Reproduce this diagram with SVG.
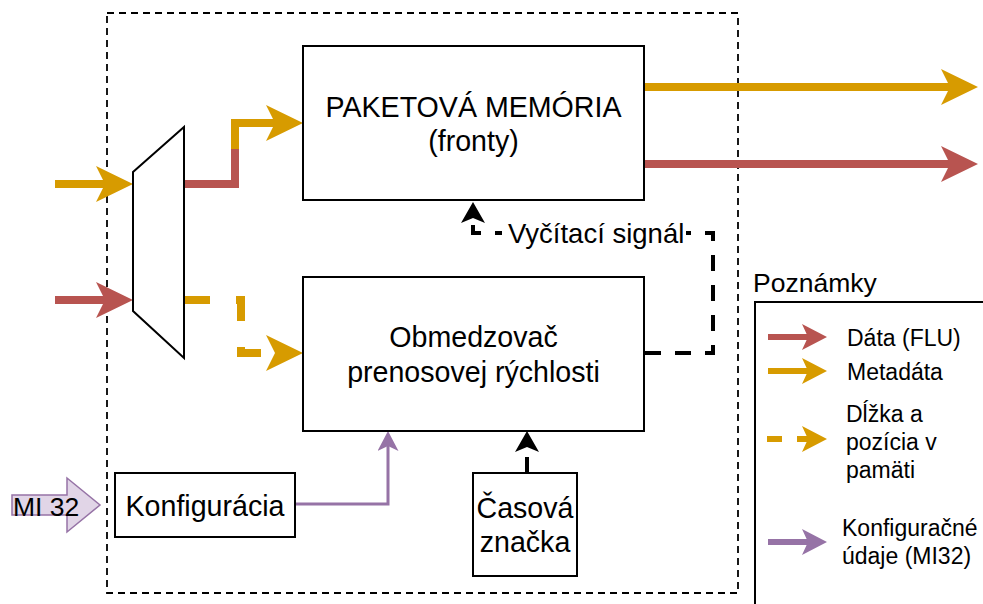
<svg xmlns="http://www.w3.org/2000/svg" width="983" height="604" viewBox="0 0 983 604">
<style>
text{font-family:"Liberation Sans",Arial,Helvetica,sans-serif;fill:#000}
.box{fill:#fff;stroke:#000;stroke-width:2}
.big{font-size:28.6px}
.leg{font-size:23px}
.mid{text-anchor:middle}
.o{fill:none;stroke:#d79b00;stroke-width:8}
.r{fill:none;stroke:#b85450;stroke-width:8}
.k{fill:none;stroke:#000;stroke-width:4;stroke-dasharray:16 14}
.p{fill:none;stroke:#9673a6;stroke-width:3}
.lo{fill:none;stroke:#d79b00;stroke-width:6}
.lr{fill:none;stroke:#b85450;stroke-width:6}
.lp{fill:none;stroke:#9673a6;stroke-width:6}
</style>
<defs>
<marker id="mo" markerUnits="userSpaceOnUse" markerWidth="37" markerHeight="36" viewBox="0 0 37 36" refX="9" refY="18" orient="auto"><path d="M0,0 L37,18 L0,36 L9,18 Z" fill="#d79b00"/></marker>
<marker id="mr" markerUnits="userSpaceOnUse" markerWidth="37" markerHeight="36" viewBox="0 0 37 36" refX="9" refY="18" orient="auto"><path d="M0,0 L37,18 L0,36 L9,18 Z" fill="#b85450"/></marker>
<marker id="mk" markerUnits="userSpaceOnUse" markerWidth="21" markerHeight="24" viewBox="0 0 21 24" refX="5" refY="12" orient="auto"><path d="M0,0 L21,12 L0,24 L5,12 Z" fill="#000"/></marker>
<marker id="mp" markerUnits="userSpaceOnUse" markerWidth="20" markerHeight="21" viewBox="0 0 20 21" refX="5" refY="10.5" orient="auto"><path d="M0,0 L20,10.5 L0,21 L5,10.5 Z" fill="#9673a6"/></marker>
<marker id="lmr" markerUnits="userSpaceOnUse" markerWidth="25" markerHeight="26" viewBox="0 0 25 26" refX="6" refY="13" orient="auto"><path d="M0,0 L25,13 L0,26 L6,13 Z" fill="#b85450"/></marker>
<marker id="lmo" markerUnits="userSpaceOnUse" markerWidth="25" markerHeight="26" viewBox="0 0 25 26" refX="6" refY="13" orient="auto"><path d="M0,0 L25,13 L0,26 L6,13 Z" fill="#d79b00"/></marker>
<marker id="lmp" markerUnits="userSpaceOnUse" markerWidth="25" markerHeight="26" viewBox="0 0 25 26" refX="6" refY="13" orient="auto"><path d="M0,0 L25,13 L0,26 L6,13 Z" fill="#9673a6"/></marker>
</defs>
<rect width="983" height="604" fill="#fff"/>

<g id="boundary">
<rect x="107" y="13" width="631" height="580" fill="none" stroke="#000" stroke-width="1.8" stroke-dasharray="7 5"/>
</g>

<g id="connectors">
<path class="o" d="M55,184 H105" marker-end="url(#mo)"/>
<path class="r" d="M55,300 H105" marker-end="url(#mr)"/>
<path class="o" d="M235,150 V123 H275" marker-end="url(#mo)"/>
<path class="r" d="M184,184 H235 V149"/>
<path class="o" d="M184,300 H241 V353 H275" stroke-dasharray="26 26" marker-end="url(#mo)"/>
<path class="o" d="M645,87 H950" marker-end="url(#mo)"/>
<path class="r" d="M645,164 H950" marker-end="url(#mr)"/>
<path class="k" d="M645,353 H713 V233 H473 V218" marker-end="url(#mk)"/>
<path class="k" d="M527,473 V447" marker-end="url(#mk)"/>
<path class="p" d="M295,504 H388 V446" marker-end="url(#mp)"/>
<g id="label-read">
<rect x="502" y="218" width="184" height="30" fill="#fff"/>
<text x="508" y="243" font-size="27.5">Vyčítací signál</text>
</g>
</g>

<g id="mux">
<polygon points="133,172 184,127 184,358 133,311" fill="#fff" stroke="#000" stroke-width="2"/>
</g>

<g id="packet-memory">
<rect class="box" x="303" y="46" width="341" height="154"/>
<text class="big mid" x="473.5" y="117">PAKETOVÁ MEMÓRIA</text>
<text class="big mid" x="473.5" y="151">(fronty)</text>
</g>

<g id="rate-limiter">
<rect class="box" x="303" y="277" width="341" height="154"/>
<text class="big mid" x="473.5" y="347">Obmedzovač</text>
<text class="big mid" x="473.5" y="382">prenosovej rýchlosti</text>
</g>

<g id="config">
<rect class="box" x="115" y="473" width="180" height="64"/>
<text class="big mid" x="205" y="516">Konfigurácia</text>
</g>

<g id="timestamp">
<rect class="box" x="473" y="473" width="104" height="103"/>
<text class="big mid" x="525" y="518">Časová</text>
<text class="big mid" x="525" y="552">značka</text>
</g>

<g id="mi32">
<polygon points="12,495 67,495 67,478 100,505 67,532 67,515 12,515" fill="#e1d5e7" stroke="#9673a6" stroke-width="1.5"/>
<text x="13" y="516" font-size="26.5">MI 32</text>
</g>

<g id="legend">
<text x="753" y="292" font-size="26.5">Poznámky</text>
<rect x="755" y="302" width="260" height="320" fill="none" stroke="#000" stroke-width="2"/>
<path class="lr" d="M768,337 H808" marker-end="url(#lmr)"/>
<text class="leg" x="847" y="346">Dáta (FLU)</text>
<path class="lo" d="M768,371 H808" marker-end="url(#lmo)"/>
<text class="leg" x="847" y="380">Metadáta</text>
<path class="lo" d="M767,439 H808" stroke-dasharray="15 15" marker-end="url(#lmo)"/>
<text class="leg" x="846" y="422">Dĺžka a</text>
<text class="leg" x="846" y="450">pozícia v</text>
<text class="leg" x="846" y="478">pamäti</text>
<path class="lp" d="M768,542 H808" marker-end="url(#lmp)"/>
<text class="leg" x="842" y="536">Konfiguračné</text>
<text class="leg" x="842" y="564">údaje (MI32)</text>
</g>
</svg>
